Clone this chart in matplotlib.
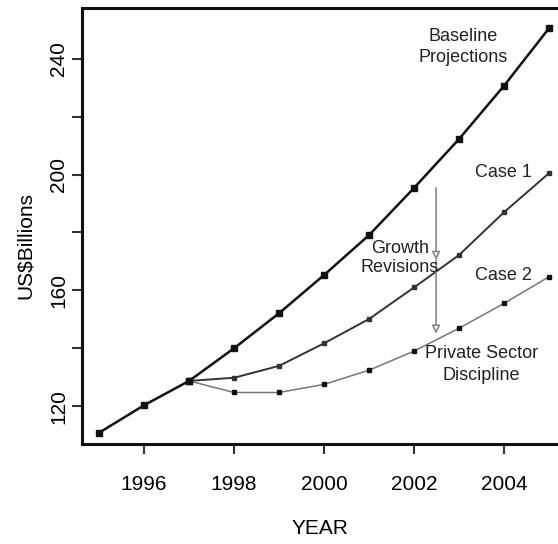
import matplotlib
matplotlib.use("Agg")
import matplotlib.pyplot as plt

plt.rcParams['font.family'] = ['Liberation Sans', 'DejaVu Sans']

years_common = [1995, 1996, 1997]
common_vals = [110.8, 120.3, 128.7]
years_proj = [1997, 1998, 1999, 2000, 2001, 2002, 2003, 2004, 2005]
baseline = [128.7, 140.0, 152.1, 165.3, 179.1, 195.4, 212.3, 230.7, 250.6]
case1 = [128.7, 129.8, 133.9, 141.7, 150.1, 161.0, 172.2, 187.0, 200.5]
case2 = [128.7, 124.7, 124.7, 127.5, 132.4, 139.0, 146.9, 155.5, 164.7]
xticks = [1996, 1998, 2000, 2002, 2004]
yticks = [120, 140, 160, 180, 200, 220, 240]
ylabels = ["120", "", "160", "", "200", "", "240"]

fig = plt.figure(figsize=(5.58, 5.44), dpi=100)
ax = fig.add_axes([0.147, 0.1833, 0.853, 0.8015])

ax.plot(years_common, common_vals, color='#111111', lw=1.8, marker='s', ms=4, zorder=4)
ax.plot(years_proj, baseline, color='#111111', lw=1.8, marker='s', ms=4, zorder=4)
ax.plot(years_proj, case1, color='#333333', lw=1.4, marker='s', ms=3, zorder=3)
ax.plot(years_proj, case2, color='#777777', lw=1.1, marker='s', ms=3,
        mfc='#111111', mec='#111111', zorder=3)

ax.set_xlim(1994.62, 2005.2)
ax.set_ylim(106.8, 257.5)
ax.set_xticks(xticks)
ax.set_yticks(yticks)
ax.set_yticklabels(ylabels, rotation=90, va='center')
ax.tick_params(axis='x', direction='out', length=7, width=1.5, pad=15, labelsize=15, color='#333333')
ax.tick_params(axis='y', direction='out', length=7, width=1.5, pad=3, labelsize=15, color='#333333')

for s in ['left', 'bottom', 'top']:
    ax.spines[s].set_linewidth(2.2)
    ax.spines[s].set_color('#111111')
ax.spines['right'].set_visible(False)

ax.set_xlabel("YEAR", fontsize=15, labelpad=18)
ax.set_ylabel("US$Billions", fontsize=15)
ax.yaxis.set_label_coords(-0.10, 0.455)

# annotations
ax.text(2003.09, 244.1, "Baseline\nProjections", fontsize=13, ha='center', va='center',
        linespacing=1.35, color='#222222')
ax.text(2004.62, 200.6, "Case 1", fontsize=13, ha='right', va='center', color='#222222')
ax.text(2004.62, 165.3, "Case 2", fontsize=13, ha='right', va='center', color='#222222')
ax.text(2001.69, 171.2, "Growth\nRevisions", fontsize=13, ha='center', va='center',
        linespacing=1.2, color='#222222', zorder=5)
ax.text(2003.49, 134.35, "Private Sector\nDiscipline", fontsize=13, ha='center', va='center',
        linespacing=1.4, color='#222222')

arrow_x = 2002.49
ax.annotate("", xy=(arrow_x, 170.5), xytext=(arrow_x, 195.4),
            arrowprops=dict(arrowstyle='-|>', color='#888888', lw=1.2,
                            fc='white', mutation_scale=12, shrinkA=0, shrinkB=0))
ax.annotate("", xy=(arrow_x, 145.0), xytext=(arrow_x, 170.5),
            arrowprops=dict(arrowstyle='-|>', color='#888888', lw=1.2,
                            fc='white', mutation_scale=12, shrinkA=0, shrinkB=0))

fig.savefig("out.png", dpi=100)
